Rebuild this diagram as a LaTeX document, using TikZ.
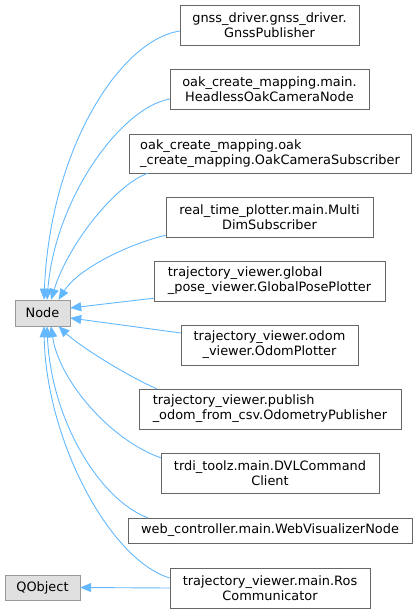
\documentclass[tikz,border=0pt]{standalone}
\usepackage{fontspec}
\setmainfont{DejaVu Sans}
\definecolor{edgeBlue}{RGB}{99,184,255}
\definecolor{boxGrey}{RGB}{102,102,102}
\definecolor{baseGrey}{RGB}{153,153,153}
\definecolor{baseFill}{RGB}{224,224,224}
\usetikzlibrary{arrows.meta}

\begin{document}
\begin{tikzpicture}[
    x=1pt, y=-1pt,
    cls/.style={draw=boxGrey, fill=white, align=center, inner sep=2pt,
      minimum height=40pt, font=\fontsize{12.9pt}{15pt}\selectfont},
    base/.style={cls, draw=baseGrey, fill=baseFill, minimum height=26pt},
    inh/.style={draw=edgeBlue, line width=0.9pt,
      -{Triangle[length=11pt,width=9pt]}}
  ]
    \useasboundingbox (0,0) rectangle (417,613);
    % Base classes
    \node[base, minimum width=55pt] (nd) at (42.5,313) {Node};
    \node[base, minimum width=75pt, minimum height=25pt] (qobj) at (42.5,587.5) {QObject};
    % Derived classes
    \node[cls, minimum width=179pt] (gnss) at (269.5,25)
      {gnss\_driver.gnss\_driver.\\GnssPublisher};
    \node[cls, minimum width=199pt] (oakm) at (269.5,89)
      {oak\_create\_mapping.main.\\HeadlessOakCameraNode};
    \node[cls, minimum width=282pt, minimum height=39pt, align=left] (oaks) at (270,153.5)
      {oak\_create\_mapping.oak\\\_create\_mapping.OakCameraSubscriber};
    \node[cls, minimum width=207pt] (rtp) at (269.5,217)
      {real\_time\_plotter.main.Multi\\DimSubscriber};
    \node[cls, minimum width=231pt, align=left] (gpp) at (269.5,281)
      {trajectory\_viewer.global\\\_pose\_viewer.GlobalPosePlotter};
    \node[cls, minimum width=177pt] (odom) at (269.5,345)
      {trajectory\_viewer.odom\\\_viewer.OdomPlotter};
    \node[cls, minimum width=262pt, align=left] (pub) at (270,409)
      {trajectory\_viewer.publish\\\_odom\_from\_csv.OdometryPublisher};
    \node[cls, minimum width=218pt] (dvl) at (270,473)
      {trdi\_toolz.main.DVLCommand\\Client};
    \node[cls, minimum width=284pt, minimum height=25pt] (web) at (270,530.5)
      {web\_controller.main.WebVisualizerNode};
    \node[cls, minimum width=200pt] (ros) at (270,588)
      {trajectory\_viewer.main.Ros\\Communicator};
    % Inheritance into Node
    \draw[inh] ([yshift=-6pt]gnss.west) .. controls +(-60,9) and +(6,-150) .. ([xshift=1.5pt]nd.north);
    \draw[inh] ([yshift=-10pt]oakm.west) .. controls +(-50,9) and +(8,-100) .. ([xshift=4.5pt]nd.north);
    \draw[inh] ([xshift=19pt]oaks.south west) .. controls +(-33,12) and +(17,-55) .. ([xshift=8.5pt]nd.north);
    \draw[inh] ([yshift=2pt]rtp.south west) .. controls +(-41,10) and +(19,-30) .. ([xshift=16pt]nd.north);
    \draw[inh] ([yshift=3pt]gpp.south west) -- ([yshift=5pt]nd.east);
    \draw[inh] ([yshift=12pt]odom.west) -- ([yshift=-5pt]nd.east);
    \draw[inh] ([xshift=18pt]pub.north west) .. controls +(-32,-14) and +(20,19) .. ([xshift=16pt]nd.south);
    \draw[inh] ([yshift=-5pt]dvl.north west) .. controls +(-51,-18) and +(8,54) .. ([xshift=8.5pt]nd.south);
    \draw[inh] ([xshift=20pt]web.north west) .. controls +(-48,-18) and +(4,94) .. ([xshift=4.5pt]nd.south);
    \draw[inh] ([yshift=10pt]ros.west) .. controls +(-60,-18) and +(2,114) .. ([xshift=1.5pt]nd.south);
    % Inheritance into QObject
    \draw[inh] (ros.west) -- (qobj.east);
\end{tikzpicture}
\end{document}
